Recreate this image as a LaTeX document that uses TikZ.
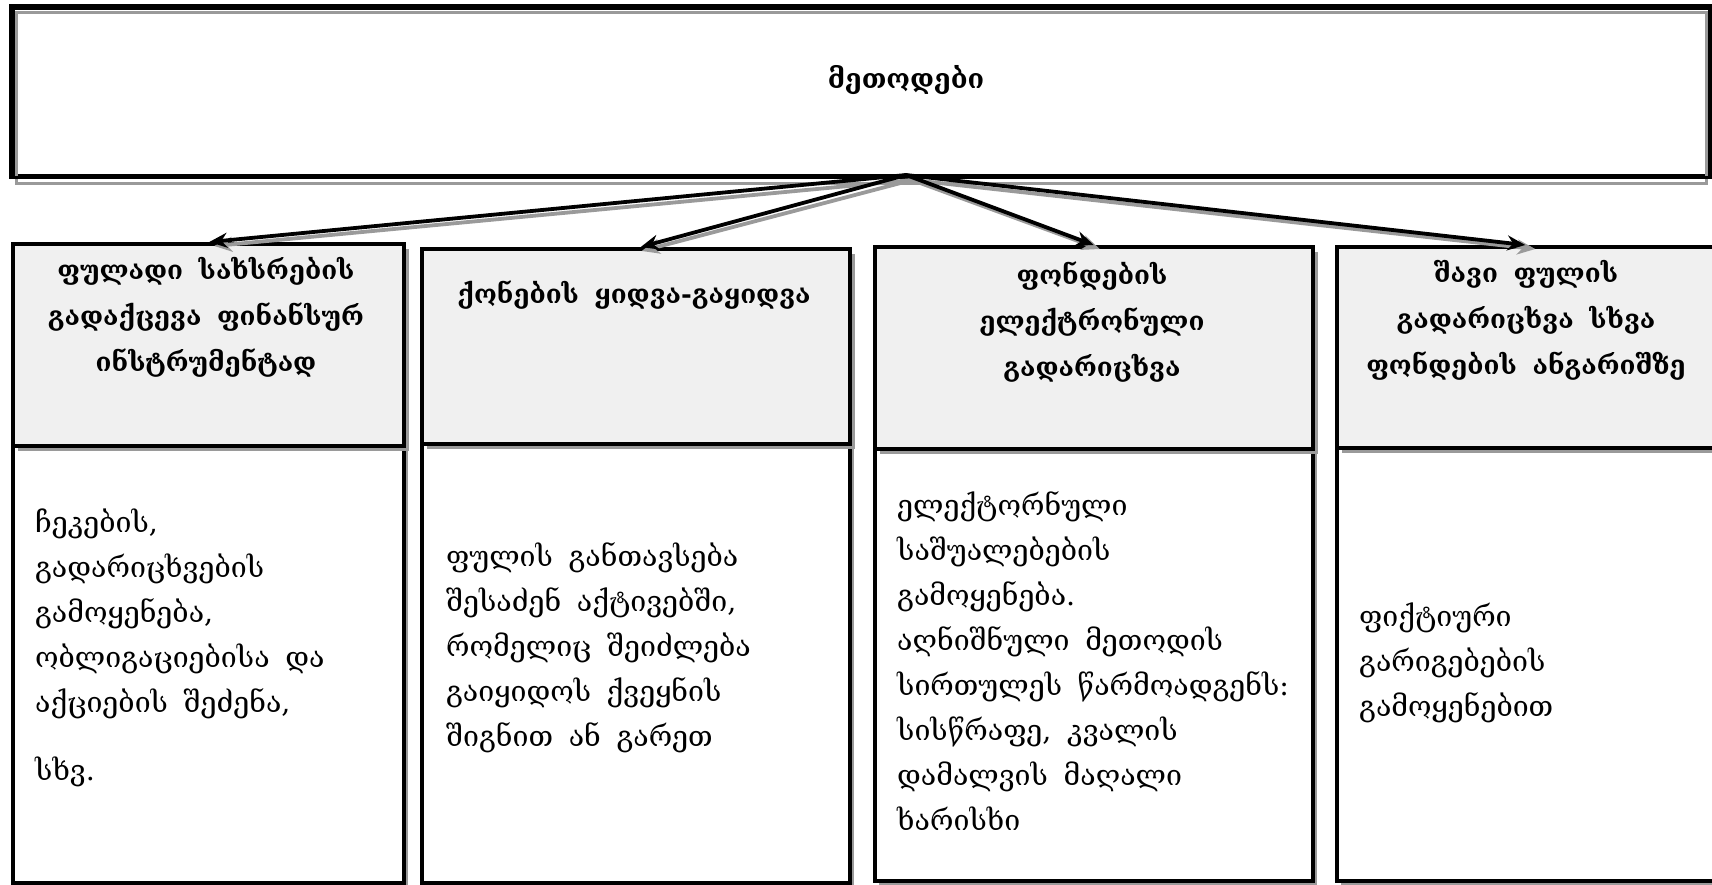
\documentclass[tikz,border=0pt]{standalone}
\usepackage{fontspec}
\setmainfont{DejaVu Serif}
\usetikzlibrary{arrows.meta,shadows}
\definecolor{headfill}{HTML}{F0F0F0}
\definecolor{shade}{HTML}{9A9A9A}
\begin{document}
\begin{tikzpicture}[x=1pt,y=-1pt,
  frame/.style={draw=black,line width=3.5pt,inner sep=0pt,anchor=north west},
  topbox/.style={frame},
  topshade/.style={draw=shade,line width=3pt},
  headbox/.style={frame,fill=headfill,general shadow={fill=shade,shadow xshift=5pt,shadow yshift=-5pt}},
  bodybox/.style={frame,fill=white,general shadow={fill=shade,shadow xshift=4pt,shadow yshift=-4pt}},
  titletext/.style={font=\fontsize{27}{34}\selectfont\bfseries,inner sep=0pt},
  headtext/.style={font={\fontsize{26}{46}\selectfont\bfseries\spaceskip=0.6em\relax},align=center,inner sep=0pt},
  bodytext/.style={font={\fontsize{28.5}{45}\selectfont\spaceskip=0.55em\relax},align=left,inner sep=0pt,anchor=west},
  link/.style={draw=black,line width=3.8pt,-{Stealth[length=18pt,width=15pt]}},
  linkshade/.style={draw=shade,line width=3.8pt,-{Stealth[length=18pt,width=15pt]}}
]
\useasboundingbox (0,0) rectangle (1712,884);
\clip (0,0) rectangle (1712,884);

% top box with its outline shadow
\node[topbox,minimum width=1697pt,minimum height=168pt] (top) at (11,6) {};
\draw[topshade] ([xshift=5pt,yshift=-6pt]top.north west) rectangle ([xshift=-5pt,yshift=-6pt]top.south east);
\draw[line width=3.5pt] (top.north west) rectangle (top.south east);
\node[titletext] (title) at (906,80) {მეთოდები};

% lower boxes: bodies first, headers on top
\node[bodybox,minimum width=391pt,minimum height=437pt] (b1) at (11,444) {};
\node[bodybox,minimum width=428pt,minimum height=439pt] (b2) at (420,442) {};
\node[bodybox,minimum width=438pt,minimum height=432pt] (b3) at (873,447) {};
\node[bodybox,minimum width=385pt,minimum height=433pt] (b4) at (1335,446) {};

\node[headbox,minimum width=391pt,minimum height=202pt] (h1) at (11,242) {};
\node[headbox,minimum width=428pt,minimum height=195pt] (h2) at (420,247) {};
\node[headbox,minimum width=438pt,minimum height=202pt] (h3) at (873,245) {};
\node[headbox,minimum width=385pt,minimum height=201pt] (h4) at (1335,245) {};

% header labels
\node[headtext] (t1) at (206,317) {ფულადი სახსრების\\გადაქცევა ფინანსურ\\ინსტრუმენტად};
\node[headtext] (t2) at (634,295) {ქონების ყიდვა-გაყიდვა};
\node[headtext] (t3) at (1092,322) {ფონდების\\ელექტრონული\\გადარიცხვა};
\node[headtext] (t4) at (1526,320) {შავი ფულის\\გადარიცხვა სხვა\\ფონდების ანგარიშზე};

% body texts
\node[bodytext] (d1) at (35,648) {ჩეკების,\\გადარიცხვების\\გამოყენება,\\ობლიგაციებისა და\\აქციების შეძენა,\\[23pt]სხვ.};
\node[bodytext] (d2) at (446,648) {ფულის განთავსება\\შესაძენ აქტივებში,\\რომელიც შეიძლება\\გაიყიდოს ქვეყნის\\შიგნით ან გარეთ};
\node[bodytext] (d3) at (897,661) {ელექტორნული\\საშუალებების\\გამოყენება.\\აღნიშნული მეთოდის\\სირთულეს წარმოადგენს:\\სისწრაფე, კვალის\\დამალვის მაღალი\\ხარისხი};
\node[bodytext] (d4) at (1359,663) {ფიქტიური\\გარიგებების\\გამოყენებით};

% connectors from the common hub, each with a grey shadow copy
\coordinate (hub) at (906,175);
\coordinate (hubs) at (912,180);
\foreach \n in {h1,h2,h3,h4}{
  \draw[linkshade] (hubs) -- ([xshift=6pt,yshift=-4pt]\n.north);
}
\draw[link] (hub) -- ([xshift=1pt]h1.north);
\draw[link] (hub) -- ([xshift=5pt]h2.north);
\draw[link] (hub) -- (h3.north);
\draw[link] (hub) -- ([xshift=-4pt]h4.north);
\end{tikzpicture}
\end{document}
